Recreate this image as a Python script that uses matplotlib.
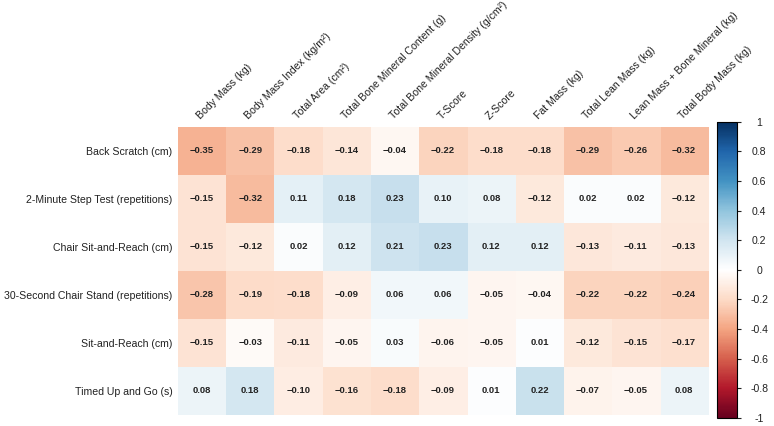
import numpy as np
import matplotlib
matplotlib.use('Agg')
import matplotlib.pyplot as plt
from matplotlib.colors import LinearSegmentedColormap
from matplotlib.ticker import FuncFormatter

plt.rcParams['font.family'] = ['Liberation Sans', 'DejaVu Sans']

rows = [
    "Back Scratch (cm)",
    "2-Minute Step Test (repetitions)",
    "Chair Sit-and-Reach (cm)",
    "30-Second Chair Stand (repetitions)",
    "Sit-and-Reach (cm)",
    "Timed Up and Go (s)",
]
cols = [
    "Body Mass (kg)",
    "Body Mass Index (kg/m\u00b2)",
    "Total Area (cm\u00b2)",
    "Total Bone Mineral Content (g)",
    "Total Bone Mineral Density (g/cm\u00b2)",
    "T-Score",
    "Z-Score",
    "Fat Mass (kg)",
    "Total Lean Mass (kg)",
    "Lean Mass + Bone Mineral (kg)",
    "Total Body Mass (kg)",
]
back_scratch = [-0.35, -0.29, -0.18, -0.14, -0.04, -0.22, -0.18, -0.18, -0.29, -0.26, -0.32]
step_test    = [-0.15, -0.32, 0.11, 0.18, 0.23, 0.10, 0.08, -0.12, 0.02, 0.02, -0.12]
chair_reach  = [-0.15, -0.12, 0.02, 0.12, 0.21, 0.23, 0.12, 0.12, -0.13, -0.11, -0.13]
chair_stand  = [-0.28, -0.19, -0.18, -0.09, 0.06, 0.06, -0.05, -0.04, -0.22, -0.22, -0.24]
sit_reach    = [-0.15, -0.03, -0.11, -0.05, 0.03, -0.06, -0.05, 0.01, -0.12, -0.15, -0.17]
timed_up_go  = [0.08, 0.18, -0.10, -0.16, -0.18, -0.09, 0.01, 0.22, -0.07, -0.05, 0.08]

corr = np.array([back_scratch, step_test, chair_reach, chair_stand, sit_reach, timed_up_go])

# red-white-blue ramp with a pure white centre
ramp = ["#67001F", "#B2182B", "#D6604D", "#F4A582", "#FDDBC7", "#FFFFFF",
        "#D1E5F0", "#92C5DE", "#4393C3", "#2166AC", "#053061"]
cmap = LinearSegmentedColormap.from_list("rdwbu", ramp, N=256)

fig = plt.figure(figsize=(7.74, 4.26), dpi=100)
ax = fig.add_axes([0.230, 0.026, 0.685, 0.676])
cax = fig.add_axes([0.926, 0.019, 0.026, 0.695])

im = ax.imshow(corr, cmap=cmap, vmin=-1, vmax=1, aspect='auto')

for i in range(corr.shape[0]):
    for j in range(corr.shape[1]):
        ax.text(j, i, f"{corr[i, j]:.2f}".replace('-', '\u2212'),
                ha='center', va='center', fontsize=6.8, fontweight='bold', color='#222222')

ax.set_xticks(range(len(cols)))
ax.set_xticklabels(cols, rotation=45, ha='left', rotation_mode='anchor', fontsize=7.6, color='#222222')
ax.xaxis.tick_top()
ax.set_yticks(range(len(rows)))
ax.set_yticklabels(rows, fontsize=7.6, color='#222222')
ax.tick_params(length=0, pad=4)
for s in ax.spines.values():
    s.set_visible(False)

cb = fig.colorbar(im, cax=cax, ticks=np.linspace(-1, 1, 11))
cb.ax.yaxis.set_major_formatter(FuncFormatter(lambda v, p: f"{v:.1f}".rstrip('0').rstrip('.') if abs(v) > 1e-9 else "0"))
cb.ax.tick_params(labelsize=7.6, length=3, width=0.8, pad=13, colors='#222222')
for lab in cb.ax.get_yticklabels():
    lab.set_horizontalalignment('center')
cb.outline.set_linewidth(0.8)

fig.savefig("out.png", dpi=100)
